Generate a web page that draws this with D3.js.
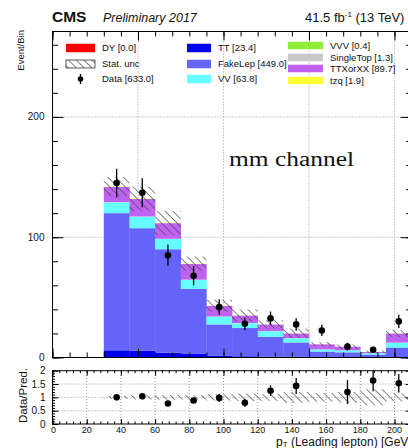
<!DOCTYPE html>
<html><head><meta charset="utf-8">
<script src="https://cdn.jsdelivr.net/npm/d3@7"></script>
<style>body{margin:0;background:#fff} svg{display:block} text{font-family:"Liberation Sans",Arial,sans-serif;fill:#111}</style>
</head><body><svg id="c" width="408" height="448"></svg>
<script>
// ---------- DATA ----------
const binEdges = [30,45,60,75,90,105,120,135,150,165,180,195,210];
const seriesNames = ["DY","TT","FakeLep","VV","VVV","SingleTop","TTXorXX","tzq"];
const DY        = [0,0,0,0,0,0,0,0,0,0,0,0];
const TT        = [6,5.5,4,3,1.5,1,0.8,0.5,0.3,0.3,0.2,0.3];
const FakeLep   = [114,102,86,54,26,23.5,16.5,12,4.7,4,2.3,8];
const VV        = [9,9.5,8.5,7.5,6.5,4,4.5,3.5,1.7,1.6,1.1,4];
const VVV       = [0.05,0.05,0.05,0.05,0.04,0.03,0.03,0.03,0.02,0.02,0.01,0.02];
const SingleTop = [0.2,0.2,0.15,0.15,0.1,0.1,0.1,0.1,0.05,0.05,0.05,0.05];
const TTXorXX   = [12.5,14.5,13,13,8.7,6.2,5.5,3.8,4.2,3.0,0.9,7.5];
const tzq       = [0.3,0.3,0.25,0.25,0.2,0.15,0.12,0.1,0.08,0.05,0.03,0.07];
const dataValues = [145,137,85,68,42,28,32.5,27.5,22.5,9,6.5,30];
const dataErrors = [12,12,9,8,6.5,5.3,5.7,5.2,4.7,3.2,2.5,5.5];
const statUnc    = [8,10,10,6,5,5,3.5,4,1.8,1.8,1.2,3];
const ratioValues = [1.0,1.04,0.77,0.88,0.98,0.8,1.25,1.43,null,1.2,1.63,1.53];
const ratioErrors = [0.08,0.09,0.08,0.1,0.15,0.15,0.2,0.3,null,0.45,0.4,0.35];
const ratioUnc    = [0.06,0.08,0.09,0.08,0.12,0.14,0.13,0.2,0.16,0.2,0.3,0.15];
const mainYTickLabels = [0,100,200];
const ratioYTickLabels = [0,0.5,1,1.5,2];
const ratioXTickLabels = [0,20,40,60,80,100,120,140,160,180,200];
const legendLabels = {DY:"DY [0.0]",TT:"TT [23.4]",FakeLep:"FakeLep [449.0]",VV:"VV [63.8]",
  VVV:"VVV [0.4]",SingleTop:"SingleTop [1.3]",TTXorXX:"TTXorXX [89.7]",tzq:"tzq [1.9]",
  stat:"Stat. unc",data:"Data [633.0]"};
const colors = {DY:"#ff0000",TT:"#0000ee",FakeLep:"#6464fa",VV:"#66ffff",VVV:"#8fee3a",
  SingleTop:"#c8c8c8",TTXorXX:"#c062f0",tzq:"#ffff33"};

// ---------- SETUP ----------
const svg = d3.select("#c");
const seriesArrays = {DY,TT,FakeLep,VV,VVV,SingleTop,TTXorXX,tzq};
const bins = binEdges.slice(0,-1).map((lo,i)=>{
  const o = {lo, hi: binEdges[i+1], i};
  seriesNames.forEach(k=>o[k]=seriesArrays[k][i]);
  return o;
});
const x = d3.scaleLinear().domain([0,210]).range([52.5,411.6]);
const y = d3.scaleLinear().domain([0,271]).range([357.5,31.5]);
const yr = d3.scaleLinear().domain([0,2]).range([424,370.7]);

const defs = svg.append("defs");
const pat = defs.append("pattern").attr("id","hatch").attr("patternUnits","userSpaceOnUse")
  .attr("width",5.5).attr("height",5.5).attr("patternTransform","rotate(-45)");
pat.append("line").attr("x1",0).attr("y1",0).attr("x2",0).attr("y2",5.5)
  .attr("stroke","#444").attr("stroke-width",1.3);
defs.append("clipPath").attr("id","mainclip").append("rect")
  .attr("x",x(0)).attr("y",y(271)).attr("width",x(210)-x(0)).attr("height",y(0)-y(271));
defs.append("clipPath").attr("id","ratioclip").append("rect")
  .attr("x",x(0)).attr("y",yr(2)).attr("width",x(210)-x(0)).attr("height",yr(0)-yr(2));

const grid = "#9a9a9a";
// ---------- MAIN PANEL ----------
const gMain = svg.append("g");
[100,200].forEach(v=>gMain.append("line").attr("x1",x(0)).attr("x2",x(210)).attr("y1",y(v)).attr("y2",y(v))
  .attr("stroke",grid).attr("stroke-dasharray","1,2"));
[50,100,150,200].forEach(v=>gMain.append("line").attr("x1",x(v)).attr("x2",x(v)).attr("y1",y(0)).attr("y2",y(271))
  .attr("stroke",grid).attr("stroke-dasharray","1,2"));

const stack = d3.stack().keys(seriesNames)(bins);
const gStack = gMain.append("g").attr("clip-path","url(#mainclip)");
stack.forEach(layer=>{
  gStack.selectAll(null).data(layer).enter().append("rect")
    .attr("x",d=>x(d.data.lo)).attr("width",d=>x(d.data.hi)-x(d.data.lo)+0.3)
    .attr("y",d=>y(d[1])).attr("height",d=>Math.max(0,y(d[0])-y(d[1])))
    .attr("fill",colors[layer.key]);
});
const totals = stack[stack.length-1].map(d=>d[1]);
gStack.selectAll(null).data(bins).enter().append("rect")
  .attr("x",d=>x(d.lo)).attr("width",d=>x(d.hi)-x(d.lo))
  .attr("y",d=>y(totals[d.i]+statUnc[d.i])).attr("height",d=>y(totals[d.i]-statUnc[d.i])-y(totals[d.i]+statUnc[d.i]))
  .attr("fill","url(#hatch)");
// data
const gData = gMain.append("g").attr("clip-path","url(#mainclip)");
bins.forEach(b=>{
  const cx = x((b.lo+b.hi)/2);
  gData.append("line").attr("x1",cx).attr("x2",cx).attr("y1",y(dataValues[b.i]-dataErrors[b.i])).attr("y2",y(dataValues[b.i]+dataErrors[b.i]))
    .attr("stroke","#000").attr("stroke-width",1.3);
  gData.append("circle").attr("cx",cx).attr("cy",y(dataValues[b.i])).attr("r",3.3).attr("fill","#000");
});
// frame
gMain.append("rect").attr("x",x(0)).attr("y",y(271)).attr("width",x(210)-x(0)).attr("height",y(0)-y(271))
  .attr("fill","none").attr("stroke","#000").attr("stroke-width",1);
// ticks main
function ticks(g, vals, axisFn, scale, pos, size){
  g.append("g").attr("transform",pos).call(axisFn(scale).tickValues(vals).tickSize(size).tickFormat(""))
   .call(s=>{s.select(".domain").remove(); s.selectAll("line").attr("stroke","#000");});
}
const minorY = d3.range(0,271,20), majorY = mainYTickLabels;
ticks(gMain, minorY, d3.axisLeft, y, `translate(${x(0)},0)`, -5.5);
ticks(gMain, majorY, d3.axisLeft, y, `translate(${x(0)},0)`, -11);
ticks(gMain, minorY, d3.axisRight, y, `translate(${x(210)},0)`, -5.5);
ticks(gMain, majorY, d3.axisRight, y, `translate(${x(210)},0)`, -11);
const minorX = d3.range(0,211,10), majorX = [0,50,100,150,200];
ticks(gMain, minorX, d3.axisBottom, x, `translate(0,${y(0)})`, -5);
ticks(gMain, majorX, d3.axisBottom, x, `translate(0,${y(0)})`, -9);
ticks(gMain, minorX, d3.axisTop, x, `translate(0,${y(271)})`, -5);
ticks(gMain, majorX, d3.axisTop, x, `translate(0,${y(271)})`, -9);
mainYTickLabels.forEach(v=>gMain.append("text").attr("x",x(0)-8).attr("y",y(v)+3.5)
  .attr("text-anchor","end").attr("font-size",10).text(v));

// ---------- RATIO PANEL ----------
const gR = svg.append("g");
[0.5,1,1.5].forEach(v=>gR.append("line").attr("x1",x(0)).attr("x2",x(210)).attr("y1",yr(v)).attr("y2",yr(v))
  .attr("stroke",grid).attr("stroke-dasharray","1,2"));
d3.range(20,211,20).forEach(v=>gR.append("line").attr("x1",x(v)).attr("x2",x(v)).attr("y1",yr(0)).attr("y2",yr(2))
  .attr("stroke",grid).attr("stroke-dasharray","1,2"));
const gRc = gR.append("g").attr("clip-path","url(#ratioclip)");
gRc.selectAll(null).data(bins).enter().append("rect")
  .attr("x",d=>x(d.lo)).attr("width",d=>x(d.hi)-x(d.lo))
  .attr("y",d=>yr(1+ratioUnc[d.i])).attr("height",d=>yr(1-ratioUnc[d.i])-yr(1+ratioUnc[d.i]))
  .attr("fill","url(#hatch)");
bins.forEach(b=>{
  if(ratioValues[b.i]==null) return;
  const cx = x((b.lo+b.hi)/2);
  gRc.append("line").attr("x1",cx).attr("x2",cx).attr("y1",yr(ratioValues[b.i]-ratioErrors[b.i])).attr("y2",yr(ratioValues[b.i]+ratioErrors[b.i]))
    .attr("stroke","#000").attr("stroke-width",1.3);
  gRc.append("circle").attr("cx",cx).attr("cy",yr(ratioValues[b.i])).attr("r",3.3).attr("fill","#000");
});
gR.append("rect").attr("x",x(0)).attr("y",yr(2)).attr("width",x(210)-x(0)).attr("height",yr(0)-yr(2))
  .attr("fill","none").attr("stroke","#000").attr("stroke-width",1);
const rMinorX = d3.range(0,211,4), rMajorX = d3.range(0,211,20);
ticks(gR, rMinorX, d3.axisBottom, x, `translate(0,${yr(0)})`, -2.5);
ticks(gR, rMajorX, d3.axisBottom, x, `translate(0,${yr(0)})`, -5);
ticks(gR, rMinorX, d3.axisTop, x, `translate(0,${yr(2)})`, -2.5);
ticks(gR, rMajorX, d3.axisTop, x, `translate(0,${yr(2)})`, -5);
ticks(gR, d3.range(0,2.01,0.1), d3.axisLeft, yr, `translate(${x(0)},0)`, -2.5);
ticks(gR, ratioYTickLabels, d3.axisLeft, yr, `translate(${x(0)},0)`, -6);
ticks(gR, d3.range(0,2.01,0.1), d3.axisRight, yr, `translate(${x(210)},0)`, -2.5);
ticks(gR, ratioYTickLabels, d3.axisRight, yr, `translate(${x(210)},0)`, -6);
ratioYTickLabels.forEach(v=>gR.append("text").attr("x",x(0)-7).attr("y",yr(v)+3.5)
  .attr("text-anchor","end").attr("font-size",10).text(v));
ratioXTickLabels.forEach(v=>gR.append("text").attr("x",x(v)+(v===0?1:0)).attr("y",432.5)
  .attr("text-anchor","middle").attr("font-size",9).text(v));

// ---------- TEXT ----------
svg.append("text").attr("x",52).attr("y",22).attr("font-size",15.5).attr("font-weight","bold").text("CMS");
svg.append("text").attr("x",103).attr("y",22).attr("font-size",12.5).attr("font-style","italic").text("Preliminary 2017");
const lum = svg.append("text").attr("x",305).attr("y",22).attr("font-size",13);
lum.append("tspan").text("41.5 fb");
lum.append("tspan").attr("font-size",8).attr("dy",-5).text("-1");
lum.append("tspan").attr("dy",5).text(" (13 TeV)");
svg.append("text").attr("transform","translate(24,30) rotate(-90)").attr("text-anchor","end")
  .attr("font-size",9.5).text("Event/Bin");
svg.append("text").attr("transform","translate(27,368) rotate(-90)").attr("text-anchor","end")
  .attr("font-size",11.5).text("Data/Pred.");
const xt = svg.append("text").attr("x",276).attr("y",445.5).attr("font-size",12);
xt.append("tspan").text("p");
xt.append("tspan").attr("font-size",8).attr("dy",1.5).text("T");
xt.append("tspan").attr("dy",-1.5).text(" (Leading lepton) [GeV]");
svg.append("text").attr("x",229).attr("y",166)
  .style("font-family","'Liberation Serif','Times New Roman',serif")
  .attr("font-size",20.5).attr("textLength",125).attr("lengthAdjust","spacingAndGlyphs").text("mm channel");

// ---------- LEGEND ----------
const leg = svg.append("g").attr("font-size",9.5);
const legendEntries = [
  {k:"DY", bx:66, bw:29, tx:102, cy:48},
  {k:"stat", bx:66, bw:29, tx:102, cy:64},
  {k:"data", bx:66, bw:29, tx:102, cy:79},
  {k:"TT", bx:187, bw:24, tx:218, cy:48},
  {k:"FakeLep", bx:187, bw:24, tx:218, cy:64},
  {k:"VV", bx:187, bw:24, tx:218, cy:79},
  {k:"VVV", bx:288, bw:35, tx:330, cy:45.5},
  {k:"SingleTop", bx:288, bw:35, tx:330, cy:57.5},
  {k:"TTXorXX", bx:288, bw:35, tx:330, cy:68.5},
  {k:"tzq", bx:288, bw:35, tx:330, cy:80.5}
];
legendEntries.forEach(e=>{
  if(e.k==="data"){
    const cx = e.bx+e.bw/2;
    leg.append("line").attr("x1",cx).attr("x2",cx).attr("y1",e.cy-5).attr("y2",e.cy+5).attr("stroke","#000").attr("stroke-width",1.3);
    leg.append("circle").attr("cx",cx).attr("cy",e.cy).attr("r",2.8).attr("fill","#000");
  } else if(e.k==="stat"){
    leg.append("rect").attr("x",e.bx).attr("y",e.cy-4).attr("width",e.bw).attr("height",8)
      .attr("fill","url(#hatch)").attr("stroke","#333").attr("stroke-width",0.8);
  } else {
    const h = e.bx===288 ? 7.5 : 8.5;
    leg.append("rect").attr("x",e.bx).attr("y",e.cy-h/2).attr("width",e.bw).attr("height",h).attr("fill",colors[e.k]);
  }
  leg.append("text").attr("x",e.tx).attr("y",e.cy+3.4).text(legendLabels[e.k]);
});
</script></body></html>
